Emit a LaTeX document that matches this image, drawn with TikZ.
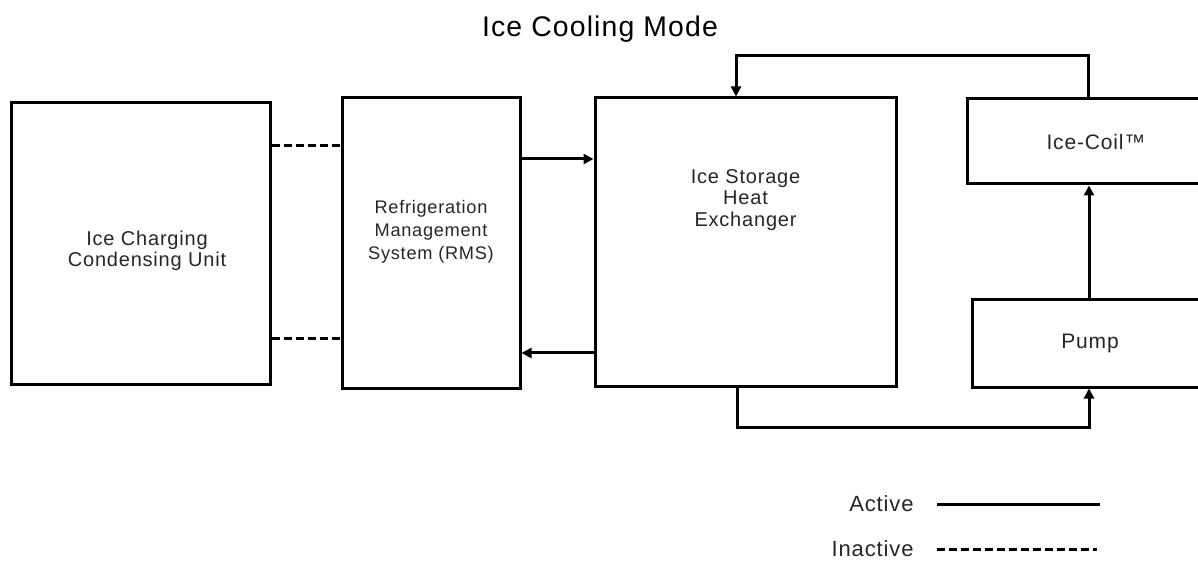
\documentclass[tikz,border=0pt]{standalone}
\usepackage{fontspec}
\setmainfont{Liberation Sans}[LetterSpace=4]
\usetikzlibrary{arrows.meta}
\begin{document}
\begin{tikzpicture}[x=0.5pt,y=-0.5pt,
  box/.style={draw, line width=1.5pt, inner sep=0pt, align=center,
    font=\fontsize{10.5}{12}\selectfont},
  conn/.style={line width=1.5pt},
  arr/.style={conn, -{Triangle[length=5pt,width=5pt]}},
  inact/.style={line width=1.5pt, dash pattern=on 4pt off 2pt},
  lbl/.style={font=\fontsize{10}{10.6}\selectfont, inner sep=0pt, align=center, text=black!85}]
\useasboundingbox (0,0) rectangle (1198,571);
\clip (0,0) rectangle (1198,571);
% title
\node[font=\fontsize{14.2}{16}\selectfont, inner sep=0pt] (title) at (600,29) {Ice Cooling Mode};
% boxes
\node[box, minimum width=129.5pt, minimum height=140.5pt] (icu) at (140.5,243.5) {};
\node[box, minimum width=89pt, minimum height=145pt] (rms) at (431,243) {};
\node[box, minimum width=150.5pt, minimum height=144pt] (hx) at (745.5,242) {};
\node[box, minimum width=116.25pt, minimum height=42.5pt] (coil) at (1083.25,141.5) {};
\node[box, minimum width=118pt, minimum height=43.5pt, text=black!85] (pump) at (1090,343.5) {Pump};
\node[lbl, font=\fontsize{10.5}{12}\selectfont] (coiltext) at (1096,141.5) {Ice-Coil™};
\node[lbl] (icutext) at (147,251) {Ice Charging\\Condensing Unit};
\node[lbl, font=\fontsize{9.1}{11.6}\selectfont] (rmstext) at (431,232) {Refrigeration\\Management\\System (RMS)};
\node[lbl] (hxtext) at (745.5,200) {Ice Storage\\Heat\\Exchanger};
% coordinates
\coordinate (a1) at (0,159);
\coordinate (a2) at (0,353);
\coordinate (d1) at (0,146);
\coordinate (d2) at (0,339);
\coordinate (t1) at (1088,56);
\coordinate (t2) at (736,56);
\coordinate (b1) at (737,427);
\coordinate (b2) at (1089,427);
\coordinate (v1) at (1089,0);
% connectors
\draw[arr] (rms.east |- a1) -- (hx.west |- a1);
\draw[arr] (hx.west |- a2) -- (rms.east |- a2);
\draw[inact] (icu.east |- d1) -- (rms.west |- d1);
\draw[inact] (icu.east |- d2) -- (rms.west |- d2);
\draw[arr] (coil.north -| t1) -- (t1) -- (t2) -- (hx.north -| t2);
\draw[arr] (hx.south -| b1) -- (b1) -- (b2) -- (pump.south -| b2);
\draw[arr] (pump.north -| v1) -- (coil.south -| v1);
% legend
\node[lbl, font=\fontsize{11}{12}\selectfont, anchor=east] (lact) at (914,504) {Active};
\node[lbl, font=\fontsize{11}{12}\selectfont, anchor=east] (linact) at (914,549) {Inactive};
\coordinate (la1) at (937,504);
\coordinate (la2) at (1100,504);
\coordinate (li1) at (937,549);
\coordinate (li2) at (1097,549);
\draw[conn] (la1) -- (la2);
\draw[inact] (li1) -- (li2);
\end{tikzpicture}
\end{document}
